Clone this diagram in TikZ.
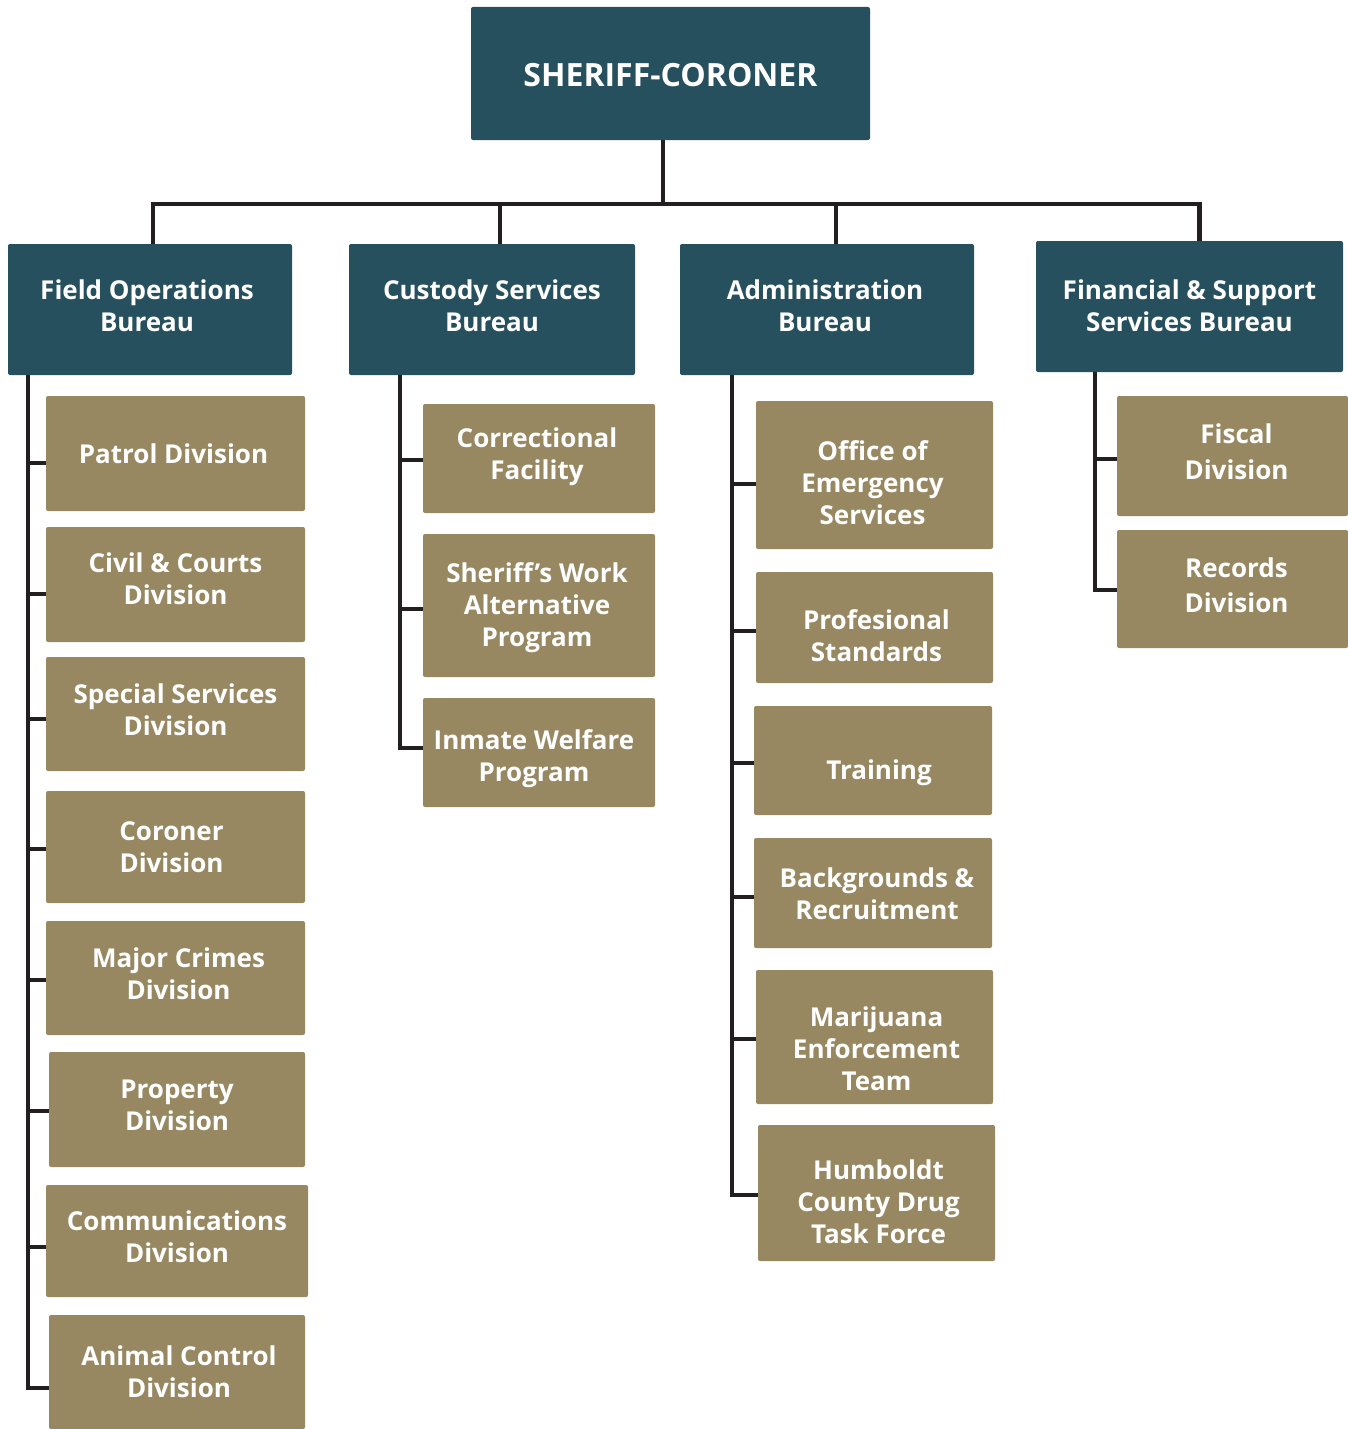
\documentclass[tikz,border=0pt]{standalone}
\usepackage{fontspec}
\setmainfont{Open Sans}
\definecolor{bureaublue}{HTML}{27505E}
\definecolor{unitgold}{HTML}{978862}
\definecolor{linkblack}{HTML}{231F20}
\begin{document}
\begin{tikzpicture}[x=1pt,y=-1pt,
    head/.style={fill=bureaublue,rounded corners=2pt,inner sep=0pt},
    unit/.style={head,fill=unitgold},
    wh/.style n args={2}{minimum width=#1pt,minimum height=#2pt},
    caption/.style={text=white,align=center,inner sep=0pt,font=\bfseries\fontsize{26}{32}\selectfont},
    link/.style={draw=linkblack,line width=4.5pt}]
    \useasboundingbox (0,0) rectangle (1348,1429);
    % top and bureaus
    \node[head,wh={399}{133}] (sheriff) at (670.5,73.5) {};
    \node[head,wh={284}{131}] (fob) at (150,309.5) {};
    \node[head,wh={286}{131}] (csb) at (492,309.5) {};
    \node[head,wh={294}{131}] (adb) at (827,309.5) {};
    \node[head,wh={307}{131}] (fsb) at (1189.5,306.5) {};
    \node[caption,font=\bfseries\fontsize{32}{38}\selectfont] (sheriff-t) at ([shift={(0,2)}]sheriff) {SHERIFF-CORONER};
    \node[caption] (fob-t) at ([shift={(-3,-4)}]fob) {Field Operations\\Bureau};
    \node[caption] (csb-t) at ([shift={(0,-4)}]csb) {Custody Services\\Bureau};
    \node[caption] (adb-t) at ([shift={(-2,-4)}]adb) {Administration\\Bureau};
    \node[caption] (fsb-t) at ([shift={(0,-1)}]fsb) {Financial \& Support\\Services Bureau};
    % field operations
    \node[unit,wh={259}{115}] (patrol) at (175.5,453.5) {};
    \node[unit,wh={259}{115}] (civil) at (175.5,584.5) {};
    \node[unit,wh={259}{114}] (special) at (175.5,714) {};
    \node[unit,wh={259}{112}] (coroner) at (175.5,847) {};
    \node[unit,wh={259}{114}] (major) at (175.5,978) {};
    \node[unit,wh={256}{115}] (property) at (177,1109.5) {};
    \node[unit,wh={262}{112}] (comms) at (177,1241) {};
    \node[unit,wh={256}{114}] (animal) at (177,1372) {};
    \node[caption] (patrol-t) at ([shift={(-2,0)}]patrol) {Patrol Division};
    \node[caption] (civil-t) at ([shift={(0,-6)}]civil) {Civil \& Courts\\Division};
    \node[caption] (special-t) at ([shift={(0,-4)}]special) {Special Services\\Division};
    \node[caption] (coroner-t) at ([shift={(-4,0)}]coroner) {Coroner\\Division};
    \node[caption] (major-t) at ([shift={(3,-4)}]major) {Major Crimes\\Division};
    \node[caption] (property-t) at ([shift={(0,-4)}]property) {Property\\Division};
    \node[caption] (comms-t) at ([shift={(0,-4)}]comms) {Communications\\Division};
    \node[caption] (animal-t) at ([shift={(2,0)}]animal) {Animal Control\\Division};
    % custody
    \node[unit,wh={232}{109}] (correct) at (539,458.5) {};
    \node[unit,wh={232}{143}] (swap) at (539,605.5) {};
    \node[unit,wh={232}{109}] (inmate) at (539,752.5) {};
    \node[caption] (correct-t) at ([shift={(-2,-2)}]correct) {Correctional\\Facility};
    \node[caption] (swap-t) at ([shift={(-2,2)}]swap) {Sheriff’s Work\\Alternative\\Program};
    \node[caption] (inmate-t) at ([shift={(-5,6)}]inmate) {Inmate Welfare\\Program};
    % administration
    \node[unit,wh={237}{148}] (oes) at (874.5,475) {};
    \node[unit,wh={237}{111}] (prof) at (874.5,627.5) {};
    \node[unit,wh={238}{109}] (training) at (873,760.5) {};
    \node[unit,wh={238}{110}] (backgr) at (873,893) {};
    \node[unit,wh={237}{134}] (mjet) at (874.5,1037) {};
    \node[unit,wh={237}{136}] (drug) at (876.5,1193) {};
    \node[caption] (oes-t) at ([shift={(-2,8)}]oes) {Office of\\Emergency\\Services};
    \node[caption] (prof-t) at ([shift={(2,8)}]prof) {Profesional\\Standards};
    \node[caption] (training-t) at ([shift={(6,12)}]training) {Training};
    \node[caption] (backgr-t) at ([shift={(4,1)}]backgr) {Backgrounds \&\\Recruitment};
    \node[caption] (mjet-t) at ([shift={(2,12)}]mjet) {Marijuana\\Enforcement\\Team};
    \node[caption] (drug-t) at ([shift={(2,9)}]drug) {Humboldt\\County Drug\\Task Force};
    % financial
    \node[unit,wh={231}{120}] (fiscal) at (1232.5,456) {};
    \node[unit,wh={231}{118}] (records) at (1232.5,589) {};
    \node[caption,font=\bfseries\fontsize{26}{36}\selectfont] (fiscal-t) at ([shift={(4,-4)}]fiscal) {Fiscal\\Division};
    \node[caption,font=\bfseries\fontsize{26}{35}\selectfont] (records-t) at ([shift={(4,-4)}]records) {Records\\Division};
    % connectors
    \coordinate (bus) at (663,204);
    \draw[link] (bus |- sheriff.south) -- (bus);
    \foreach \b/\dx in {fob/3,csb/8,adb/9,fsb/10}
        \draw[link] (bus) -| ([xshift=\dx pt]\b.north);
    \foreach \c/\s in {patrol/-9.5,civil/-9.5,special/-5,coroner/-2,major/-2,property/-1.5,comms/-6,animal/-16}
        \draw[link] ([xshift=20pt]fob.south west) |- ([yshift=\s pt]\c.west);
    \foreach \c/\s in {correct/-1.5,swap/-3.5,inmate/4.5}
        \draw[link] ([xshift=51pt]csb.south west) |- ([yshift=\s pt]\c.west);
    \foreach \c/\s in {oes/-9,prof/-3.5,training/-2.5,backgr/-4,mjet/-2,drug/-2}
        \draw[link] ([xshift=52pt]adb.south west) |- ([yshift=\s pt]\c.west);
    \foreach \c/\s in {fiscal/-3,records/-1}
        \draw[link] ([xshift=59pt]fsb.south west) |- ([yshift=\s pt]\c.west);
\end{tikzpicture}
\end{document}
